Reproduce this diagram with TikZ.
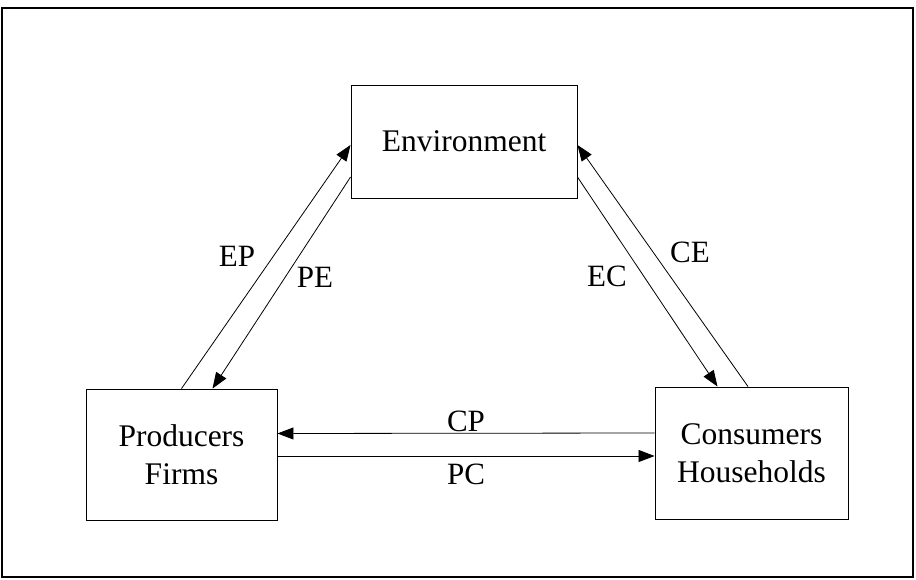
\documentclass[tikz,border=0pt]{standalone}
\usepackage{fontspec}
\setmainfont{Liberation Serif}
\usetikzlibrary{arrows.meta}
\begin{document}
\begin{tikzpicture}[x=1pt,y=-1pt]
\tikzset{flow/.style={-{Triangle[length=16pt,width=12pt]},line width=0.8pt}}
\tikzstyle{sector}=[draw,rectangle,line width=0.9pt,align=center,inner sep=0pt,font=\fontsize{31.5}{38}\selectfont]
\tikzstyle{lbl}=[font=\fontsize{31}{32}\selectfont]
\useasboundingbox (0,0) rectangle (916,580);
\draw[line width=1.4pt] (2,8) rectangle (913,577);
\node[sector,minimum width=226pt,minimum height=113pt] (env)at(464,141.5){Environment};
\node[sector,minimum width=191pt,minimum height=131pt] (prod)at(181.5,454.5){Producers\\Firms};
\node[sector,minimum width=193pt,minimum height=132pt] (cons)at(751.5,453){Consumers\\Households};
\node[lbl] (ep)at(237,256){EP};
\node[lbl] (pe)at(315,277){PE};
\node[lbl] (ec)at(607,276){EC};
\node[lbl] (ce)at(690,252){CE};
\node[lbl] (cp)at(466,421){CP};
\node[lbl] (pc)at(466,474){PC};
\draw[flow] (prod.north) -- ([yshift=-3.5pt]env.west);
\draw[flow] ([yshift=-35.5pt]env.west) -- ([xshift=31pt]prod.north);
\draw[flow] ([yshift=-35.5pt]env.east) -- ([xshift=-34pt]cons.north);
\draw[flow] ([xshift=-3.5pt]cons.north) -- ([yshift=-3.5pt]env.east);
\draw[flow] ([yshift=20pt]cons.west) -- ([yshift=21pt]prod.east);
\draw[flow] ([yshift=-1.5pt]prod.east) -- ([yshift=-3pt]cons.west);
\end{tikzpicture}
\end{document}
